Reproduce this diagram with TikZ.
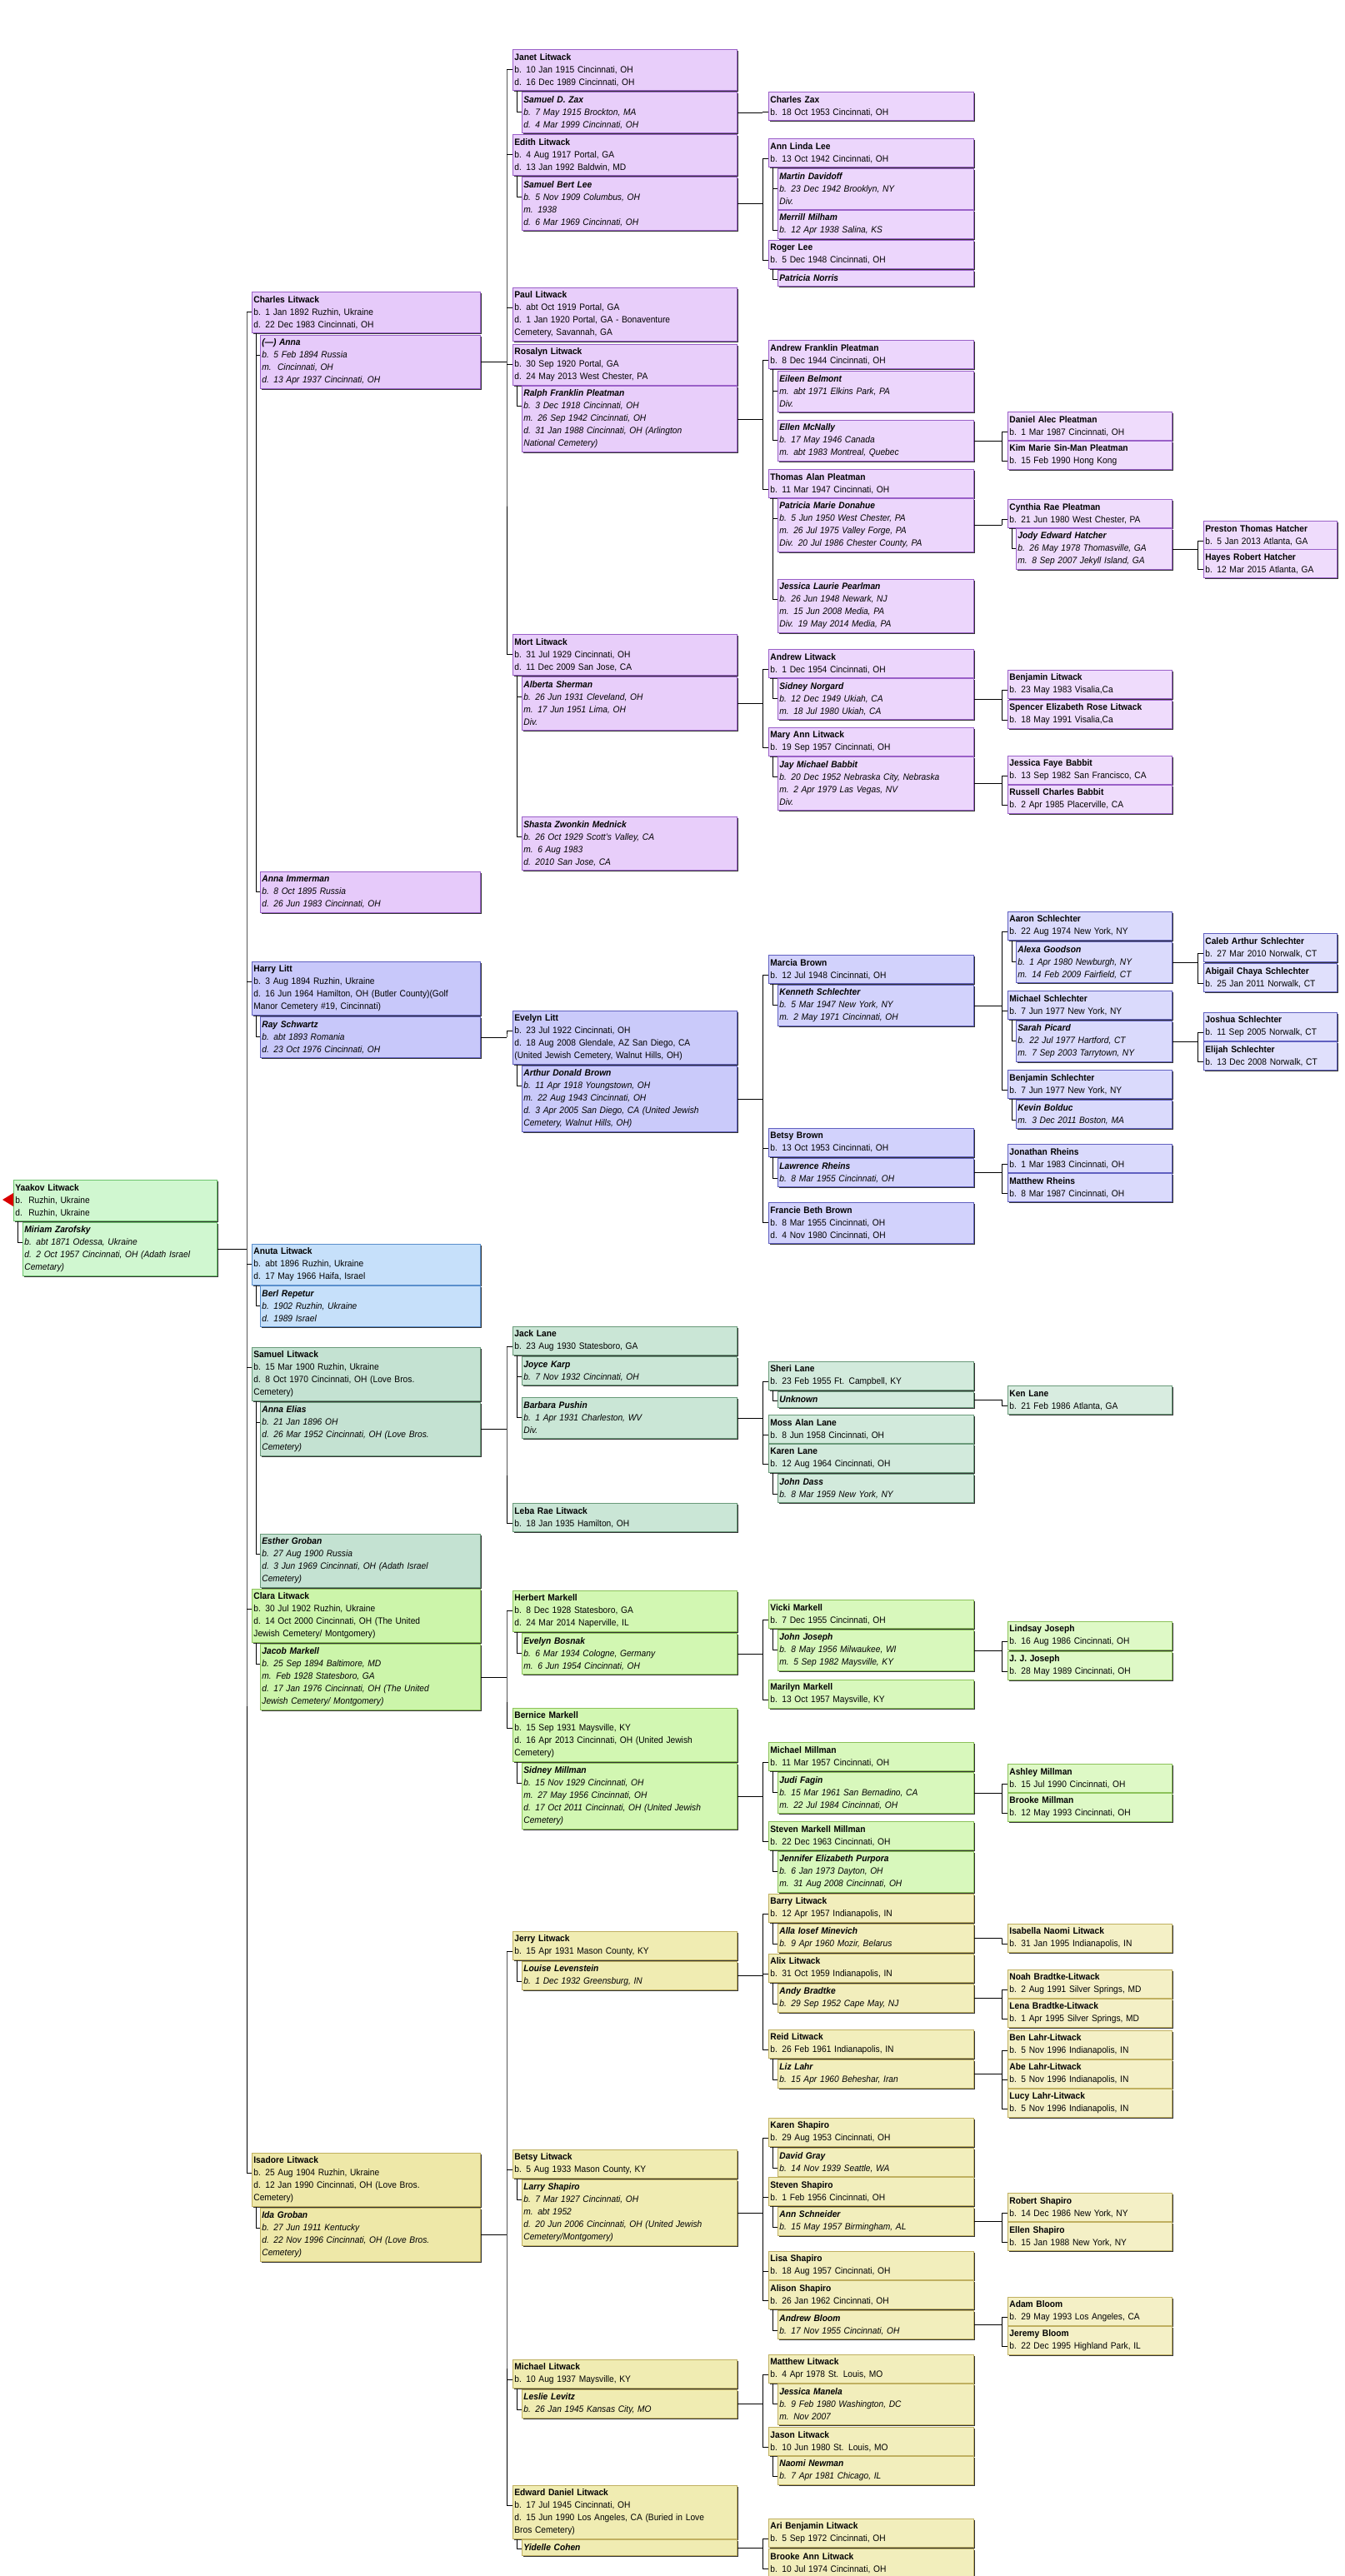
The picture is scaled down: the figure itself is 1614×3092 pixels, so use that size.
\documentclass[tikz,border=0pt]{standalone}
\usepackage{fontspec}
\setmainfont{Liberation Sans}[FakeStretch=0.93]
\usetikzlibrary{calc,shadows}
\definecolor{yaF}{HTML}{D0F7D0}\definecolor{yaD}{HTML}{6CC46C}
\definecolor{cF2}{HTML}{E6CAFA}\definecolor{cF3}{HTML}{E8CEFA}\definecolor{cF4}{HTML}{ECD6FC}\definecolor{cF5}{HTML}{EFDCFC}\definecolor{cD}{HTML}{9A60C8}
\definecolor{hF2}{HTML}{C8C8FA}\definecolor{hF3}{HTML}{CACAFA}\definecolor{hF4}{HTML}{D2D2FC}\definecolor{hF5}{HTML}{DADAFC}\definecolor{hF6}{HTML}{E0E0FC}\definecolor{hD}{HTML}{6060C0}
\definecolor{aF}{HTML}{C6E0FA}\definecolor{aD}{HTML}{5A8FCC}
\definecolor{sF2}{HTML}{C4E2D2}\definecolor{sF3}{HTML}{CAE6D6}\definecolor{sF4}{HTML}{D2EADC}\definecolor{sF5}{HTML}{D8ECE0}\definecolor{sD}{HTML}{6A9A7A}
\definecolor{kF2}{HTML}{CCF5AA}\definecolor{kF3}{HTML}{D2F7B2}\definecolor{kF4}{HTML}{D8F8BC}\definecolor{kF5}{HTML}{DEF9C6}\definecolor{kD}{HTML}{8CC25A}
\definecolor{iF2}{HTML}{EEE8A8}\definecolor{iF3}{HTML}{F0ECB2}\definecolor{iF4}{HTML}{F2EEBC}\definecolor{iF5}{HTML}{F4F0C6}\definecolor{iD}{HTML}{C0B060}
\tikzset{
 box/.style={draw,line width=0.8pt,anchor=north west,align=left,inner xsep=2pt,inner ysep=1pt,
   font=\fontsize{11}{15}\selectfont,
   drop shadow={shadow xshift=1.6pt,shadow yshift=-1.6pt,fill=black!80,opacity=1}},
 spo/.style={font=\fontsize{11}{15}\selectfont\itshape},
 conn/.style={line width=0.8pt,black},
 ya/.style={fill=yaF,draw=yaD},
 c2/.style={fill=cF2,draw=cD},c3/.style={fill=cF3,draw=cD},c4/.style={fill=cF4,draw=cD},c5/.style={fill=cF5,draw=cD},
 h2/.style={fill=hF2,draw=hD},h3/.style={fill=hF3,draw=hD},h4/.style={fill=hF4,draw=hD},h5/.style={fill=hF5,draw=hD},h6/.style={fill=hF6,draw=hD},
 an/.style={fill=aF,draw=aD},
 s2/.style={fill=sF2,draw=sD},s3/.style={fill=sF3,draw=sD},s4/.style={fill=sF4,draw=sD},s5/.style={fill=sF5,draw=sD},
 k2/.style={fill=kF2,draw=kD},k3/.style={fill=kF3,draw=kD},k4/.style={fill=kF4,draw=kD},k5/.style={fill=kF5,draw=kD},
 i2/.style={fill=iF2,draw=iD},i3/.style={fill=iF3,draw=iD},i4/.style={fill=iF4,draw=iD},i5/.style={fill=iF5,draw=iD},
}
% name, style, x, y, textwidth, nlines, text
\newcommand\PX[7]{\node[box,#2,text width=#5pt,minimum height=15pt*#6+4pt] (#1) at (#3pt,-#4pt) {#7};
 \ifnum#6=1 \coordinate (#1-t) at ($(#1.north west)+(0,-11pt)$);\else\coordinate (#1-t) at ($(#1.north west)+(0,-24pt)$);\fi}
\newcommand\Pa[5]{\PX{#1}{#2}{16}{#3}{240}{#4}{#5}}
\newcommand\Sa[5]{\PX{#1}{#2,spo}{27}{#3}{229}{#4}{#5}}
\newcommand\Pb[5]{\PX{#1}{#2}{302}{#3}{270}{#4}{#5}}
\newcommand\Sb[5]{\PX{#1}{#2,spo}{312}{#3}{260}{#4}{#5}}
\newcommand\Pc[5]{\PX{#1}{#2}{615}{#3}{265}{#4}{#5}}
\newcommand\Sc[5]{\PX{#1}{#2,spo}{626}{#3}{254}{#4}{#5}}
\newcommand\Pd[5]{\PX{#1}{#2}{922}{#3}{242}{#4}{#5}}
\newcommand\Sd[5]{\PX{#1}{#2,spo}{933}{#3}{231}{#4}{#5}}
\newcommand\Pe[5]{\PX{#1}{#2}{1209}{#3}{193}{#4}{#5}}
\newcommand\Se[5]{\PX{#1}{#2,spo}{1219}{#3}{183}{#4}{#5}}
\newcommand\Pf[5]{\PX{#1}{#2}{1444}{#3}{156}{#4}{#5}}
\newcommand\SPB[2]{\draw[conn] ($(#1.south west)+(5pt,0)$) |- (#2-t);}
% spouse, vertical x, first child, last child, children list
\newcommand\FAM[5]{\draw[conn] (#1.east) -- (#2pt,0 |- #1.east);
 \draw[conn] (#2pt,0 |- #3-t) -- (#2pt,0 |- #1.east) -- (#2pt,0 |- #4-t);
 \foreach \c in {#5} {\draw[conn] (#2pt,0 |- \c-t) -- (\c-t);}}
\begin{document}
\begin{tikzpicture}
\useasboundingbox (0,0) rectangle (1614pt,-3092pt);
% column 1
\Pa{yaakov}{ya}{1416}{3}{\textbf{Yaakov Litwack}\\b.\ \ Ruzhin, Ukraine\\d.\ \ Ruzhin, Ukraine}
\Sa{miriam}{ya}{1467}{4}{\textbf{Miriam Zarofsky}\\b. abt 1871 Odessa, Ukraine\\d. 2 Oct 1957 Cincinnati, OH (Adath Israel\\Cemetary)}
\fill[red!85!black] ($(yaakov-t)+(-13pt,0)$) -- ($(yaakov-t)+(0,8pt)$) -- ($(yaakov-t)+(0,-8pt)$) -- cycle;
% column 2
\Pb{charles}{c2}{350}{3}{\textbf{Charles Litwack}\\b. 1 Jan 1892 Ruzhin, Ukraine\\d. 22 Dec 1983 Cincinnati, OH}
\Sb{anna}{c2}{402}{4}{\textbf{(---) Anna}\\b. 5 Feb 1894 Russia\\m.\ \ Cincinnati, OH\\d. 13 Apr 1937 Cincinnati, OH}
\Sb{annaimm}{c2}{1046}{3}{\textbf{Anna Immerman}\\b. 8 Oct 1895 Russia\\d. 26 Jun 1983 Cincinnati, OH}
\Pb{harry}{h2}{1154}{4}{\textbf{Harry Litt}\\b. 3 Aug 1894 Ruzhin, Ukraine\\d. 16 Jun 1964 Hamilton, OH (Butler County)(Golf\\Manor Cemetery \#19, Cincinnati)}
\Sb{ray}{h2}{1220}{3}{\textbf{Ray Schwartz}\\b. abt 1893 Romania\\d. 23 Oct 1976 Cincinnati, OH}
\Pb{anuta}{an}{1493}{3}{\textbf{Anuta Litwack}\\b. abt 1896 Ruzhin, Ukraine\\d. 17 May 1966 Haifa, Israel}
\Sb{berl}{an}{1543}{3}{\textbf{Berl Repetur}\\b. 1902 Ruzhin, Ukraine\\d. 1989 Israel}
\Pb{samuel}{s2}{1617}{4}{\textbf{Samuel Litwack}\\b. 15 Mar 1900 Ruzhin, Ukraine\\d. 8 Oct 1970 Cincinnati, OH (Love Bros.\\Cemetery)}
\Sb{annaelias}{s2}{1683}{4}{\textbf{Anna Elias}\\b. 21 Jan 1896 OH\\d. 26 Mar 1952 Cincinnati, OH (Love Bros.\\Cemetery)}
\Sb{esther}{s2}{1841}{4}{\textbf{Esther Groban}\\b. 27 Aug 1900 Russia\\d. 3 Jun 1969 Cincinnati, OH (Adath Israel\\Cemetery)}
\Pb{clara}{k2}{1907}{4}{\textbf{Clara Litwack}\\b. 30 Jul 1902 Ruzhin, Ukraine\\d. 14 Oct 2000 Cincinnati, OH (The United\\Jewish Cemetery/ Montgomery)}
\Sb{jacob}{k2}{1973}{5}{\textbf{Jacob Markell}\\b. 25 Sep 1894 Baltimore, MD\\m. Feb 1928 Statesboro, GA\\d. 17 Jan 1976 Cincinnati, OH (The United\\Jewish Cemetery/ Montgomery)}
\Pb{isadore}{i2}{2584}{4}{\textbf{Isadore Litwack}\\b. 25 Aug 1904 Ruzhin, Ukraine\\d. 12 Jan 1990 Cincinnati, OH (Love Bros.\\Cemetery)}
\Sb{ida}{i2}{2650}{4}{\textbf{Ida Groban}\\b. 27 Jun 1911 Kentucky\\d. 22 Nov 1996 Cincinnati, OH (Love Bros.\\Cemetery)}
% column 3
\Pc{janet}{c3}{59}{3}{\textbf{Janet Litwack}\\b. 10 Jan 1915 Cincinnati, OH\\d. 16 Dec 1989 Cincinnati, OH}
\Sc{zax}{c3}{110}{3}{\textbf{Samuel D. Zax}\\b. 7 May 1915 Brockton, MA\\d. 4 Mar 1999 Cincinnati, OH}
\Pc{edith}{c3}{161}{3}{\textbf{Edith Litwack}\\b. 4 Aug 1917 Portal, GA\\d. 13 Jan 1992 Baldwin, MD}
\Sc{sblee}{c3}{212}{4}{\textbf{Samuel Bert Lee}\\b. 5 Nov 1909 Columbus, OH\\m. 1938\\d. 6 Mar 1969 Cincinnati, OH}
\Pc{paul}{c3}{345}{4}{\textbf{Paul Litwack}\\b. abt Oct 1919 Portal, GA\\d. 1 Jan 1920 Portal, GA - Bonaventure\\Cemetery, Savannah, GA}
\Pc{rosalyn}{c3}{413}{3}{\textbf{Rosalyn Litwack}\\b. 30 Sep 1920 Portal, GA\\d. 24 May 2013 West Chester, PA}
\Sc{ralph}{c3}{463}{5}{\textbf{Ralph Franklin Pleatman}\\b. 3 Dec 1918 Cincinnati, OH\\m. 26 Sep 1942 Cincinnati, OH\\d. 31 Jan 1988 Cincinnati, OH (Arlington\\National Cemetery)}
\Pc{mort}{c3}{761}{3}{\textbf{Mort Litwack}\\b. 31 Jul 1929 Cincinnati, OH\\d. 11 Dec 2009 San Jose, CA}
\Sc{alberta}{c3}{812}{4}{\textbf{Alberta Sherman}\\b. 26 Jun 1931 Cleveland, OH\\m. 17 Jun 1951 Lima, OH\\Div.}
\Sc{shasta}{c3}{980}{4}{\textbf{Shasta Zwonkin Mednick}\\b. 26 Oct 1929 Scott's Valley, CA\\m. 6 Aug 1983\\d. 2010 San Jose, CA}
\Pc{evelyn}{h3}{1213}{4}{\textbf{Evelyn Litt}\\b. 23 Jul 1922 Cincinnati, OH\\d. 18 Aug 2008 Glendale, AZ San Diego, CA\\(United Jewish Cemetery, Walnut Hills, OH)}
\Sc{arthur}{h3}{1279}{5}{\textbf{Arthur Donald Brown}\\b. 11 Apr 1918 Youngstown, OH\\m. 22 Aug 1943 Cincinnati, OH\\d. 3 Apr 2005 San Diego, CA (United Jewish\\Cemetery, Walnut Hills, OH)}
\Pc{jack}{s3}{1592}{2}{\textbf{Jack Lane}\\b. 23 Aug 1930 Statesboro, GA}
\Sc{joyce}{s3}{1628}{2}{\textbf{Joyce Karp}\\b. 7 Nov 1932 Cincinnati, OH}
\Sc{barbara}{s3}{1677}{3}{\textbf{Barbara Pushin}\\b. 1 Apr 1931 Charleston, WV\\Div.}
\Pc{leba}{s3}{1804}{2}{\textbf{Leba Rae Litwack}\\b. 18 Jan 1935 Hamilton, OH}
\Pc{herbert}{k3}{1909}{3}{\textbf{Herbert Markell}\\b. 8 Dec 1928 Statesboro, GA\\d. 24 Mar 2014 Naperville, IL}
\Sc{bosnak}{k3}{1960}{3}{\textbf{Evelyn Bosnak}\\b. 6 Mar 1934 Cologne, Germany\\m. 6 Jun 1954 Cincinnati, OH}
\Pc{bernice}{k3}{2050}{4}{\textbf{Bernice Markell}\\b. 15 Sep 1931 Maysville, KY\\d. 16 Apr 2013 Cincinnati, OH (United Jewish\\Cemetery)}
\Sc{sidneym}{k3}{2116}{5}{\textbf{Sidney Millman}\\b. 15 Nov 1929 Cincinnati, OH\\m. 27 May 1956 Cincinnati, OH\\d. 17 Oct 2011 Cincinnati, OH (United Jewish\\Cemetery)}
\Pc{jerry}{i3}{2318}{2}{\textbf{Jerry Litwack}\\b. 15 Apr 1931 Mason County, KY}
\Sc{louise}{i3}{2354}{2}{\textbf{Louise Levenstein}\\b. 1 Dec 1932 Greensburg, IN}
\Pc{betsyl}{i3}{2580}{2}{\textbf{Betsy Litwack}\\b. 5 Aug 1933 Mason County, KY}
\Sc{larry}{i3}{2616}{5}{\textbf{Larry Shapiro}\\b. 7 Mar 1927 Cincinnati, OH\\m. abt 1952\\d. 20 Jun 2006 Cincinnati, OH (United Jewish\\Cemetery/Montgomery)}
\Pc{michaell}{i3}{2832}{2}{\textbf{Michael Litwack}\\b. 10 Aug 1937 Maysville, KY}
\Sc{leslie}{i3}{2868}{2}{\textbf{Leslie Levitz}\\b. 26 Jan 1945 Kansas City, MO}
\Pc{edward}{i3}{2983}{4}{\textbf{Edward Daniel Litwack}\\b. 17 Jul 1945 Cincinnati, OH\\d. 15 Jun 1990 Los Angeles, CA (Buried in Love\\Bros Cemetery)}
\Sc{yidelle}{i3}{3048}{1}{\textbf{Yidelle Cohen}}
% column 4
\Pd{charleszax}{c4}{110}{2}{\textbf{Charles Zax}\\b. 18 Oct 1953 Cincinnati, OH}
\Pd{annlinda}{c4}{166}{2}{\textbf{Ann Linda Lee}\\b. 13 Oct 1942 Cincinnati, OH}
\Sd{martin}{c4}{202}{3}{\textbf{Martin Davidoff}\\b. 23 Dec 1942 Brooklyn, NY\\Div.}
\Sd{merrill}{c4}{252}{2}{\textbf{Merrill Milham}\\b. 12 Apr 1938 Salina, KS}
\Pd{roger}{c4}{288}{2}{\textbf{Roger Lee}\\b. 5 Dec 1948 Cincinnati, OH}
\Sd{patnorris}{c4}{324}{1}{\textbf{Patricia Norris}}
\Pd{andrewf}{c4}{408}{2}{\textbf{Andrew Franklin Pleatman}\\b. 8 Dec 1944 Cincinnati, OH}
\Sd{eileen}{c4}{445}{3}{\textbf{Eileen Belmont}\\m. abt 1971 Elkins Park, PA\\Div.}
\Sd{ellen}{c4}{504}{3}{\textbf{Ellen McNally}\\b. 17 May 1946 Canada\\m. abt 1983 Montreal, Quebec}
\Pd{thomas}{c4}{563}{2}{\textbf{Thomas Alan Pleatman}\\b. 11 Mar 1947 Cincinnati, OH}
\Sd{patricia}{c4}{598}{4}{\textbf{Patricia Marie Donahue}\\b. 5 Jun 1950 West Chester, PA\\m. 26 Jul 1975 Valley Forge, PA\\Div. 20 Jul 1986 Chester County, PA}
\Sd{jessical}{c4}{695}{4}{\textbf{Jessica Laurie Pearlman}\\b. 26 Jun 1948 Newark, NJ\\m. 15 Jun 2008 Media, PA\\Div. 19 May 2014 Media, PA}
\Pd{andrewl}{c4}{779}{2}{\textbf{Andrew Litwack}\\b. 1 Dec 1954 Cincinnati, OH}
\Sd{sidneyn}{c4}{814}{3}{\textbf{Sidney Norgard}\\b. 12 Dec 1949 Ukiah, CA\\m. 18 Jul 1980 Ukiah, CA}
\Pd{maryann}{c4}{873}{2}{\textbf{Mary Ann Litwack}\\b. 19 Sep 1957 Cincinnati, OH}
\Sd{jay}{c4}{908}{4}{\textbf{Jay Michael Babbit}\\b. 20 Dec 1952 Nebraska City, Nebraska\\m. 2 Apr 1979 Las Vegas, NV\\Div.}
\Pd{marcia}{h4}{1146}{2}{\textbf{Marcia Brown}\\b. 12 Jul 1948 Cincinnati, OH}
\Sd{kenneth}{h4}{1182}{3}{\textbf{Kenneth Schlechter}\\b. 5 Mar 1947 New York, NY\\m. 2 May 1971 Cincinnati, OH}
\Pd{betsyb}{h4}{1354}{2}{\textbf{Betsy Brown}\\b. 13 Oct 1953 Cincinnati, OH}
\Sd{lawrence}{h4}{1390}{2}{\textbf{Lawrence Rheins}\\b. 8 Mar 1955 Cincinnati, OH}
\Pd{francie}{h4}{1443}{3}{\textbf{Francie Beth Brown}\\b. 8 Mar 1955 Cincinnati, OH\\d. 4 Nov 1980 Cincinnati, OH}
\Pd{sheri}{s4}{1634}{2}{\textbf{Sheri Lane}\\b. 23 Feb 1955 Ft. Campbell, KY}
\Sd{unknown}{s4}{1670}{1}{\textbf{Unknown}}
\Pd{moss}{s4}{1698}{2}{\textbf{Moss Alan Lane}\\b. 8 Jun 1958 Cincinnati, OH}
\Pd{karenl}{s4}{1733}{2}{\textbf{Karen Lane}\\b. 12 Aug 1964 Cincinnati, OH}
\Sd{dass}{s4}{1769}{2}{\textbf{John Dass}\\b. 8 Mar 1959 New York, NY}
\Pd{vicki}{k4}{1920}{2}{\textbf{Vicki Markell}\\b. 7 Dec 1955 Cincinnati, OH}
\Sd{johnj}{k4}{1956}{3}{\textbf{John Joseph}\\b. 8 May 1956 Milwaukee, WI\\m. 5 Sep 1982 Maysville, KY}
\Pd{marilyn}{k4}{2016}{2}{\textbf{Marilyn Markell}\\b. 13 Oct 1957 Maysville, KY}
\Pd{michaelm}{k4}{2091}{2}{\textbf{Michael Millman}\\b. 11 Mar 1957 Cincinnati, OH}
\Sd{judi}{k4}{2127}{3}{\textbf{Judi Fagin}\\b. 15 Mar 1961 San Bernadino, CA\\m. 22 Jul 1984 Cincinnati, OH}
\Pd{stevenm}{k4}{2186}{2}{\textbf{Steven Markell Millman}\\b. 22 Dec 1963 Cincinnati, OH}
\Sd{jennifer}{k4}{2222}{3}{\textbf{Jennifer Elizabeth Purpora}\\b. 6 Jan 1973 Dayton, OH\\m. 31 Aug 2008 Cincinnati, OH}
\Pd{barry}{i4}{2273}{2}{\textbf{Barry Litwack}\\b. 12 Apr 1957 Indianapolis, IN}
\Sd{alla}{i4}{2309}{2}{\textbf{Alla Iosef Minevich}\\b. 9 Apr 1960 Mozir, Belarus}
\Pd{alix}{i4}{2345}{2}{\textbf{Alix Litwack}\\b. 31 Oct 1959 Indianapolis, IN}
\Sd{andy}{i4}{2381}{2}{\textbf{Andy Bradtke}\\b. 29 Sep 1952 Cape May, NJ}
\Pd{reid}{i4}{2436}{2}{\textbf{Reid Litwack}\\b. 26 Feb 1961 Indianapolis, IN}
\Sd{liz}{i4}{2472}{2}{\textbf{Liz Lahr}\\b. 15 Apr 1960 Beheshar, Iran}
\Pd{karens}{i4}{2542}{2}{\textbf{Karen Shapiro}\\b. 29 Aug 1953 Cincinnati, OH}
\Sd{david}{i4}{2578}{2}{\textbf{David Gray}\\b. 14 Nov 1939 Seattle, WA}
\Pd{stevens}{i4}{2613}{2}{\textbf{Steven Shapiro}\\b. 1 Feb 1956 Cincinnati, OH}
\Sd{anns}{i4}{2649}{2}{\textbf{Ann Schneider}\\b. 15 May 1957 Birmingham, AL}
\Pd{lisa}{i4}{2702}{2}{\textbf{Lisa Shapiro}\\b. 18 Aug 1957 Cincinnati, OH}
\Pd{alison}{i4}{2737}{2}{\textbf{Alison Shapiro}\\b. 26 Jan 1962 Cincinnati, OH}
\Sd{andrewb}{i4}{2773}{2}{\textbf{Andrew Bloom}\\b. 17 Nov 1955 Cincinnati, OH}
\Pd{matthewl}{i4}{2826}{2}{\textbf{Matthew Litwack}\\b. 4 Apr 1978 St. Louis, MO}
\Sd{jessicam}{i4}{2861}{3}{\textbf{Jessica Manela}\\b. 9 Feb 1980 Washington, DC\\m. Nov 2007}
\Pd{jason}{i4}{2913}{2}{\textbf{Jason Litwack}\\b. 10 Jun 1980 St. Louis, MO}
\Sd{naomi}{i4}{2948}{2}{\textbf{Naomi Newman}\\b. 7 Apr 1981 Chicago, IL}
\Pd{ari}{i4}{3023}{2}{\textbf{Ari Benjamin Litwack}\\b. 5 Sep 1972 Cincinnati, OH}
\Pd{brookea}{i4}{3059}{2}{\textbf{Brooke Ann Litwack}\\b. 10 Jul 1974 Cincinnati, OH}
% column 5
\Pe{daniel}{c5}{494}{2}{\textbf{Daniel Alec Pleatman}\\b. 1 Mar 1987 Cincinnati, OH}
\Pe{kim}{c5}{529}{2}{\textbf{Kim Marie Sin-Man Pleatman}\\b. 15 Feb 1990 Hong Kong}
\Pe{cynthia}{c5}{599}{2}{\textbf{Cynthia Rae Pleatman}\\b. 21 Jun 1980 West Chester, PA}
\Se{jody}{c5}{634}{3}{\textbf{Jody Edward Hatcher}\\b. 26 May 1978 Thomasville, GA\\m. 8 Sep 2007 Jekyll Island, GA}
\Pe{benjl}{c5}{804}{2}{\textbf{Benjamin Litwack}\\b. 23 May 1983 Visalia,Ca}
\Pe{spencer}{c5}{840}{2}{\textbf{Spencer Elizabeth Rose Litwack}\\b. 18 May 1991 Visalia,Ca}
\Pe{jessicaf}{c5}{907}{2}{\textbf{Jessica Faye Babbit}\\b. 13 Sep 1982 San Francisco, CA}
\Pe{russell}{c5}{942}{2}{\textbf{Russell Charles Babbit}\\b. 2 Apr 1985 Placerville, CA}
\Pe{aaron}{h5}{1094}{2}{\textbf{Aaron Schlechter}\\b. 22 Aug 1974 New York, NY}
\Se{alexa}{h5}{1130}{3}{\textbf{Alexa Goodson}\\b. 1 Apr 1980 Newburgh, NY\\m. 14 Feb 2009 Fairfield, CT}
\Pe{michaels}{h5}{1189}{2}{\textbf{Michael Schlechter}\\b. 7 Jun 1977 New York, NY}
\Se{sarah}{h5}{1225}{3}{\textbf{Sarah Picard}\\b. 22 Jul 1977 Hartford, CT\\m. 7 Sep 2003 Tarrytown, NY}
\Pe{benjs}{h5}{1284}{2}{\textbf{Benjamin Schlechter}\\b. 7 Jun 1977 New York, NY}
\Se{kevin}{h5}{1320}{2}{\textbf{Kevin Bolduc}\\m. 3 Dec 2011 Boston, MA}
\Pe{jonathan}{h5}{1373}{2}{\textbf{Jonathan Rheins}\\b. 1 Mar 1983 Cincinnati, OH}
\Pe{matthewr}{h5}{1408}{2}{\textbf{Matthew Rheins}\\b. 8 Mar 1987 Cincinnati, OH}
\Pe{ken}{s5}{1663}{2}{\textbf{Ken Lane}\\b. 21 Feb 1986 Atlanta, GA}
\Pe{lindsay}{k5}{1946}{2}{\textbf{Lindsay Joseph}\\b. 16 Aug 1986 Cincinnati, OH}
\Pe{jj}{k5}{1982}{2}{\textbf{J. J. Joseph}\\b. 28 May 1989 Cincinnati, OH}
\Pe{ashley}{k5}{2117}{2}{\textbf{Ashley Millman}\\b. 15 Jul 1990 Cincinnati, OH}
\Pe{brookem}{k5}{2152}{2}{\textbf{Brooke Millman}\\b. 12 May 1993 Cincinnati, OH}
\Pe{isabella}{i5}{2309}{2}{\textbf{Isabella Naomi Litwack}\\b. 31 Jan 1995 Indianapolis, IN}
\Pe{noah}{i5}{2364}{2}{\textbf{Noah Bradtke-Litwack}\\b. 2 Aug 1991 Silver Springs, MD}
\Pe{lena}{i5}{2399}{2}{\textbf{Lena Bradtke-Litwack}\\b. 1 Apr 1995 Silver Springs, MD}
\Pe{ben}{i5}{2437}{2}{\textbf{Ben Lahr-Litwack}\\b. 5 Nov 1996 Indianapolis, IN}
\Pe{abe}{i5}{2472}{2}{\textbf{Abe Lahr-Litwack}\\b. 5 Nov 1996 Indianapolis, IN}
\Pe{lucy}{i5}{2507}{2}{\textbf{Lucy Lahr-Litwack}\\b. 5 Nov 1996 Indianapolis, IN}
\Pe{robert}{i5}{2632}{2}{\textbf{Robert Shapiro}\\b. 14 Dec 1986 New York, NY}
\Pe{ellens}{i5}{2667}{2}{\textbf{Ellen Shapiro}\\b. 15 Jan 1988 New York, NY}
\Pe{adam}{i5}{2757}{2}{\textbf{Adam Bloom}\\b. 29 May 1993 Los Angeles, CA}
\Pe{jeremy}{i5}{2792}{2}{\textbf{Jeremy Bloom}\\b. 22 Dec 1995 Highland Park, IL}
% column 6
\Pf{preston}{c5}{625}{2}{\textbf{Preston Thomas Hatcher}\\b. 5 Jan 2013 Atlanta, GA}
\Pf{hayes}{c5}{659}{2}{\textbf{Hayes Robert Hatcher}\\b. 12 Mar 2015 Atlanta, GA}
\Pf{caleb}{h6}{1120}{2}{\textbf{Caleb Arthur Schlechter}\\b. 27 Mar 2010 Norwalk, CT}
\Pf{abigail}{h6}{1156}{2}{\textbf{Abigail Chaya Schlechter}\\b. 25 Jan 2011 Norwalk, CT}
\Pf{joshua}{h6}{1215}{2}{\textbf{Joshua Schlechter}\\b. 11 Sep 2005 Norwalk, CT}
\Pf{elijah}{h6}{1250}{2}{\textbf{Elijah Schlechter}\\b. 13 Dec 2008 Norwalk, CT}
% spouse brackets
\SPB{yaakov}{miriam}
\SPB{charles}{anna}\SPB{charles}{annaimm}
\SPB{harry}{ray}\SPB{anuta}{berl}
\SPB{samuel}{annaelias}\SPB{samuel}{esther}
\SPB{clara}{jacob}\SPB{isadore}{ida}
\SPB{janet}{zax}\SPB{edith}{sblee}\SPB{rosalyn}{ralph}
\SPB{mort}{alberta}\SPB{mort}{shasta}
\SPB{evelyn}{arthur}\SPB{jack}{joyce}\SPB{jack}{barbara}
\SPB{herbert}{bosnak}\SPB{bernice}{sidneym}\SPB{jerry}{louise}
\SPB{betsyl}{larry}\SPB{michaell}{leslie}\SPB{edward}{yidelle}
\SPB{annlinda}{martin}\SPB{annlinda}{merrill}\SPB{roger}{patnorris}
\SPB{andrewf}{eileen}\SPB{andrewf}{ellen}
\SPB{thomas}{patricia}\SPB{thomas}{jessical}
\SPB{andrewl}{sidneyn}\SPB{maryann}{jay}
\SPB{marcia}{kenneth}\SPB{betsyb}{lawrence}
\SPB{sheri}{unknown}\SPB{karenl}{dass}
\SPB{vicki}{johnj}\SPB{michaelm}{judi}\SPB{stevenm}{jennifer}
\SPB{barry}{alla}\SPB{alix}{andy}\SPB{reid}{liz}
\SPB{karens}{david}\SPB{stevens}{anns}\SPB{alison}{andrewb}
\SPB{matthewl}{jessicam}\SPB{jason}{naomi}
\SPB{cynthia}{jody}\SPB{aaron}{alexa}\SPB{michaels}{sarah}\SPB{benjs}{kevin}
% families
\FAM{miriam}{296}{charles}{isadore}{charles,harry,anuta,samuel,clara,isadore}
\FAM{anna}{608}{janet}{mort}{janet,edith,paul,rosalyn,mort}
\FAM{zax}{915}{charleszax}{charleszax}{charleszax}
\FAM{sblee}{915}{annlinda}{roger}{annlinda,roger}
\FAM{ralph}{915}{andrewf}{thomas}{andrewf,thomas}
\FAM{alberta}{915}{andrewl}{maryann}{andrewl,maryann}
\FAM{ellen}{1202}{daniel}{kim}{daniel,kim}
\FAM{patricia}{1202}{cynthia}{cynthia}{cynthia}
\FAM{sidneyn}{1202}{benjl}{spencer}{benjl,spencer}
\FAM{jay}{1202}{jessicaf}{russell}{jessicaf,russell}
\FAM{jody}{1437}{preston}{hayes}{preston,hayes}
\FAM{ray}{608}{evelyn}{evelyn}{evelyn}
\FAM{arthur}{915}{marcia}{francie}{marcia,betsyb,francie}
\FAM{kenneth}{1202}{aaron}{benjs}{aaron,michaels,benjs}
\FAM{alexa}{1437}{caleb}{abigail}{caleb,abigail}
\FAM{sarah}{1437}{joshua}{elijah}{joshua,elijah}
\FAM{lawrence}{1202}{jonathan}{matthewr}{jonathan,matthewr}
\FAM{annaelias}{608}{jack}{leba}{jack,leba}
\FAM{barbara}{915}{sheri}{karenl}{sheri,moss,karenl}
\FAM{unknown}{1202}{ken}{ken}{ken}
\FAM{jacob}{608}{herbert}{bernice}{herbert,bernice}
\FAM{bosnak}{915}{vicki}{marilyn}{vicki,marilyn}
\FAM{johnj}{1202}{lindsay}{jj}{lindsay,jj}
\FAM{sidneym}{915}{michaelm}{stevenm}{michaelm,stevenm}
\FAM{judi}{1202}{ashley}{brookem}{ashley,brookem}
\FAM{ida}{608}{jerry}{edward}{jerry,betsyl,michaell,edward}
\FAM{louise}{915}{barry}{reid}{barry,alix,reid}
\FAM{alla}{1202}{isabella}{isabella}{isabella}
\FAM{andy}{1202}{noah}{lena}{noah,lena}
\FAM{liz}{1202}{ben}{lucy}{ben,abe,lucy}
\FAM{larry}{915}{karens}{alison}{karens,stevens,lisa,alison}
\FAM{anns}{1202}{robert}{ellens}{robert,ellens}
\FAM{andrewb}{1202}{adam}{jeremy}{adam,jeremy}
\FAM{leslie}{915}{matthewl}{jason}{matthewl,jason}
\FAM{yidelle}{915}{ari}{brookea}{ari,brookea}
\end{tikzpicture}
\end{document}
